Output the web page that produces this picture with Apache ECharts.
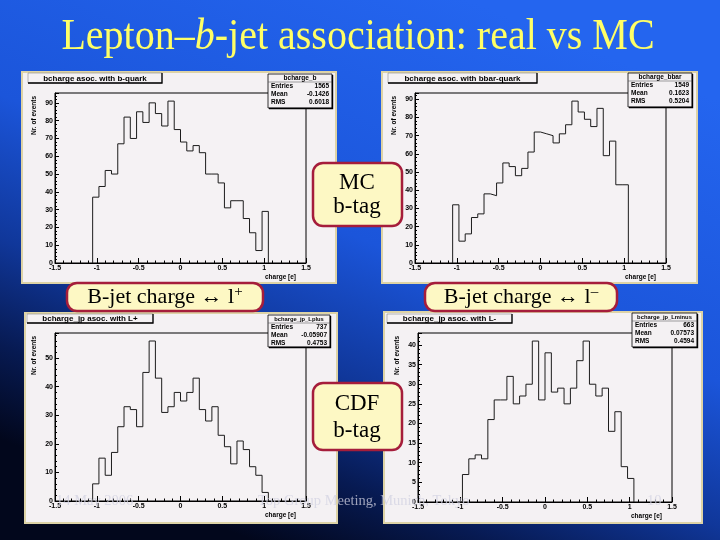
<!DOCTYPE html>
<html><head><meta charset="utf-8">
<script src="https://cdn.jsdelivr.net/npm/echarts@6/dist/echarts.min.js"></script>
<style>html,body{margin:0;padding:0;background:#000}#c{width:720px;height:540px}</style>
</head><body><div id="c"></div>
<script>
// ---------------- data ----------------
const binLow = -1.05;
const binWidth = 0.075;
const countsBQuark    = [37,43,52,50,67,82,70,85,79,90,84,77,91,75,68,63,66,62,50,50,45,31,35,35,25,17,7,29];
const countsBbarQuark = [32,12,16,25,27,38,37,44,55,53,48,52,61,72,71,70,66,71,76,89,83,79,75,85,59,67,43,43];
const countsLplus     = [6,15,9,17,26,33,32,26,45,56,43,31,33,38,35,38,43,32,28,33,23,19,13,21,18,12,9,3];
const countsLminus    = [0,7,11,12,11,21,26,26,32,25,27,30,41,26,38,28,29,25,29,36,41,30,27,29,18,23,9,6];
const xTickValues = [-1.5,-1,-0.5,0,0.5,1,1.5];
const yIntervals = [10,10,10,5];
const panelTitles = ['bcharge asoc. with b-quark','bcharge asoc. with bbar-quark','bcharge_jp asoc. with L+','bcharge_jp asoc. with L-'];
const statNames = ['bcharge_b','bcharge_bbar','bcharge_jp_Lplus','bcharge_jp_Lminus'];
const statEntries = ['1565','1549','737','663'];
const statMeans = ['-0.1426','0.1623','-0.05907','0.07573'];
const statRMS = ['0.6018','0.5204','0.4753','0.4594'];
const yAxisTitle = 'Nr. of events';
const xAxisTitle = 'charge [e]';
const slideTitle = ['Lepton–','b','-jet association: real vs MC'];
const footerTexts = ['14 May 2006','Top Group Meeting, Munich, Tokyo','10'];

// ---------------- layout ----------------
const ROOTF = '"Liberation Sans", Arial, sans-serif';
const SERIF = '"Liberation Serif", "Times New Roman", serif';
const panelBoxes = [[22,72,314,211],[382,72,315,211],[25,313,312,210],[384,312,318,211]];
const frames = [[55,93,251,170],[415,93,251,170],[55,333,251,168],[418,333,254,169]];
const titleBoxes = [[28,73,134,10],[388,73,149,10],[27,314,126,9],[387,314,125,9]];
const statBoxes = [[268,74,64,34],[628,73,64,34],[268,315,62,32],[632,313,65,34]];
const allCounts = [countsBQuark, countsBbarQuark, countsLplus, countsLminus];

function stepPoints(counts){
  const pts = [[binLow, 0]];
  counts.forEach((c,i)=>{
    const lo = binLow + i*binWidth;
    pts.push([lo, c]); pts.push([lo + binWidth, c]);
  });
  pts.push([binLow + counts.length*binWidth, 0]);
  return pts;
}

function txt(x,y,text,font,fill,align,va,z,extra){
  return Object.assign({type:'text', x:x, y:y, z:z||20, silent:true,
    style:{text:text, font:font, fill:fill, align:align||'left', textAlign:align||'left',
      verticalAlign:va||'middle', textVerticalAlign:va||'middle'}}, extra||{});
}

const g = [];
// background
g.push({type:'rect', z:-100, silent:true, shape:{x:0,y:0,width:720,height:540},
  style:{fill:{type:'linear', x:0.65, y:0, x2:0.35, y2:1, colorStops:[
    {offset:0, color:'#2465ef'},{offset:0.45, color:'#1b55da'},{offset:0.68, color:'#10379a'},
    {offset:0.85, color:'#071a52'},{offset:1, color:'#02071c'}]}}});
// title
g.push({type:'text', x:358, y:37, z:20, silent:true, scaleY:1.12,
  style:{text:'{n|'+slideTitle[0]+'}{i|'+slideTitle[1]+'}{n|'+slideTitle[2]+'}',
    align:'center', verticalAlign:'middle', textAlign:'center', textVerticalAlign:'middle',
    rich:{n:{font:'40px '+SERIF, fill:'#ffff66'}, i:{font:'italic 40px '+SERIF, fill:'#ffff66'}}}});

panelBoxes.forEach((p,i)=>{
  g.push({type:'rect', z:-50, silent:true, shape:{x:p[0],y:p[1],width:p[2],height:p[3]},
    style:{fill:'#f4f1f3', stroke:'#ddd3a6', lineWidth:2}});
  const t = titleBoxes[i];
  g.push({type:'rect', z:10, silent:true, shape:{x:t[0],y:t[1],width:t[2],height:t[3]},
    style:{fill:'#f4f1f3', stroke:'#777', lineWidth:0.5}});
  g.push({type:'polyline', z:11, silent:true, shape:{points:[[t[0],t[1]+t[3]],[t[0]+t[2],t[1]+t[3]],[t[0]+t[2],t[1]]]},
    style:{stroke:'#000', lineWidth:1.3, fill:null}});
  g.push(txt(t[0]+t[2]/2, t[1]+t[3]/2+0.5, panelTitles[i], 'bold 8px '+ROOTF, '#000', 'center', 'middle', 12));
  const s = statBoxes[i];
  g.push({type:'rect', z:10, silent:true, shape:{x:s[0],y:s[1],width:s[2],height:s[3]},
    style:{fill:'#f4f1f3', stroke:'#000', lineWidth:0.8}});
  g.push({type:'polyline', z:11, silent:true, shape:{points:[[s[0]+1,s[1]+s[3]+0.5],[s[0]+s[2]+0.5,s[1]+s[3]+0.5],[s[0]+s[2]+0.5,s[1]+1]]},
    style:{stroke:'#000', lineWidth:1.4, fill:null}});
  g.push({type:'line', z:11, silent:true, shape:{x1:s[0],y1:s[1]+8,x2:s[0]+s[2],y2:s[1]+8}, style:{stroke:'#444', lineWidth:0.5}});
  const hf = statNames[i].length > 13 ? 'bold 5.8px ' : 'bold 6.5px ';
  g.push(txt(s[0]+s[2]/2, s[1]+4, statNames[i], hf+ROOTF, '#000', 'center', 'middle', 12));
  const rows = [['Entries',statEntries[i]],['Mean',statMeans[i]],['RMS',statRMS[i]]];
  rows.forEach((r,k)=>{
    const yy = s[1] + 12.5 + k*8;
    g.push(txt(s[0]+3, yy, r[0], 'bold 6.5px '+ROOTF, '#000', 'left', 'middle', 12));
    g.push(txt(s[0]+s[2]-3, yy, r[1], 'bold 6.5px '+ROOTF, '#000', 'right', 'middle', 12));
  });
  const f = frames[i];
  g.push(txt(f[0]-21, f[1]+3, yAxisTitle, 'bold 6.5px '+ROOTF, '#000', 'right', 'middle', 12, {rotation:Math.PI/2}));
  g.push(txt(f[0]+f[2]-10, f[1]+f[3]+14, xAxisTitle, 'bold 6.5px '+ROOTF, '#000', 'right', 'middle', 12));
});

// overlay boxes
function box(x,y,w,h){
  return {type:'rect', z:100, silent:true, shape:{x:x,y:y,width:w,height:h,r:10},
    style:{fill:'#fdf8c4', stroke:'#a51d3b', lineWidth:2.5}};
}
g.push(box(313,163,89,63));
g.push(txt(357,183,'MC','23px '+SERIF,'#000','center','middle',101));
g.push(txt(357,207,'b-tag','23px '+SERIF,'#000','center','middle',101));
g.push(box(313,383,89,67));
g.push(txt(357,404,'CDF','23px '+SERIF,'#000','center','middle',101));
g.push(txt(357,431,'b-tag','23px '+SERIF,'#000','center','middle',101));
g.push(box(67,283,196,28));
g.push(box(425,283,192,28));
[[165,'+'],[521,'–']].forEach(b=>{
  g.push({type:'text', x:b[0], y:297, z:101, silent:true,
    style:{text:'{m|B-jet charge ↔ l}{s|'+b[1]+'}', align:'center', verticalAlign:'middle', textAlign:'center', textVerticalAlign:'middle',
      rich:{m:{font:'22px '+SERIF, fill:'#000', lineHeight:24}, s:{font:'15px '+SERIF, fill:'#000', lineHeight:15, verticalAlign:'top'}}}});
});
// footer
const footFill = 'rgba(210,210,225,0.75)';
g.push(txt(56,501,footerTexts[0],'14.5px '+SERIF,footFill,'left','middle',110));
g.push(txt(258,501,footerTexts[1],'14.5px '+SERIF,footFill,'left','middle',110));
g.push(txt(647,501,footerTexts[2],'14.5px '+SERIF,footFill,'left','middle',110));

const lbl = {fontSize:7, fontWeight:'bold', fontFamily:ROOTF, color:'#000'};
const option = {
  animation:false,
  grid: frames.map(f=>({left:f[0], top:f[1], width:f[2], height:f[3], show:true, borderColor:'#000', borderWidth:1,
    backgroundColor:'#f5f2f4', containLabel:false, outerBoundsMode:'none'})),
  xAxis: frames.map((f,i)=>({gridIndex:i, type:'value', min:xTickValues[0], max:xTickValues[xTickValues.length-1], interval:0.5,
    axisLine:{show:true, onZero:false, lineStyle:{color:'#000', width:1}},
    axisTick:{show:true, inside:true, length:5, lineStyle:{color:'#000', width:1}},
    minorTick:{show:true, splitNumber:5, length:2.5, lineStyle:{color:'#000', width:1}},
    splitLine:{show:false}, minorSplitLine:{show:false},
    axisLabel:Object.assign({margin:2, showMinLabel:true, showMaxLabel:true, hideOverlap:false}, lbl)})),
  yAxis: allCounts.map((c,i)=>({gridIndex:i, type:'value', min:0, max:Math.max(...c)*1.05, interval:yIntervals[i],
    axisLine:{show:true, onZero:false, lineStyle:{color:'#000', width:1}},
    axisTick:{show:true, inside:true, length:4, lineStyle:{color:'#000', width:1}},
    minorTick:{show:true, splitNumber:5, length:2, lineStyle:{color:'#000', width:1}},
    splitLine:{show:false}, minorSplitLine:{show:false},
    axisLabel:Object.assign({margin:2, showMaxLabel:false, hideOverlap:false}, lbl)})),
  series: allCounts.map((c,i)=>({type:'line', xAxisIndex:i, yAxisIndex:i, data:stepPoints(c), showSymbol:false, symbol:'none',
    lineStyle:{color:'#1c1c1c', width:1}, silent:true, animation:false, z:3})),
  graphic: {elements: g}
};
const chart = echarts.init(document.getElementById('c'), null, {renderer:'canvas', width:720, height:540});
chart.setOption(option);
</script></body></html>
